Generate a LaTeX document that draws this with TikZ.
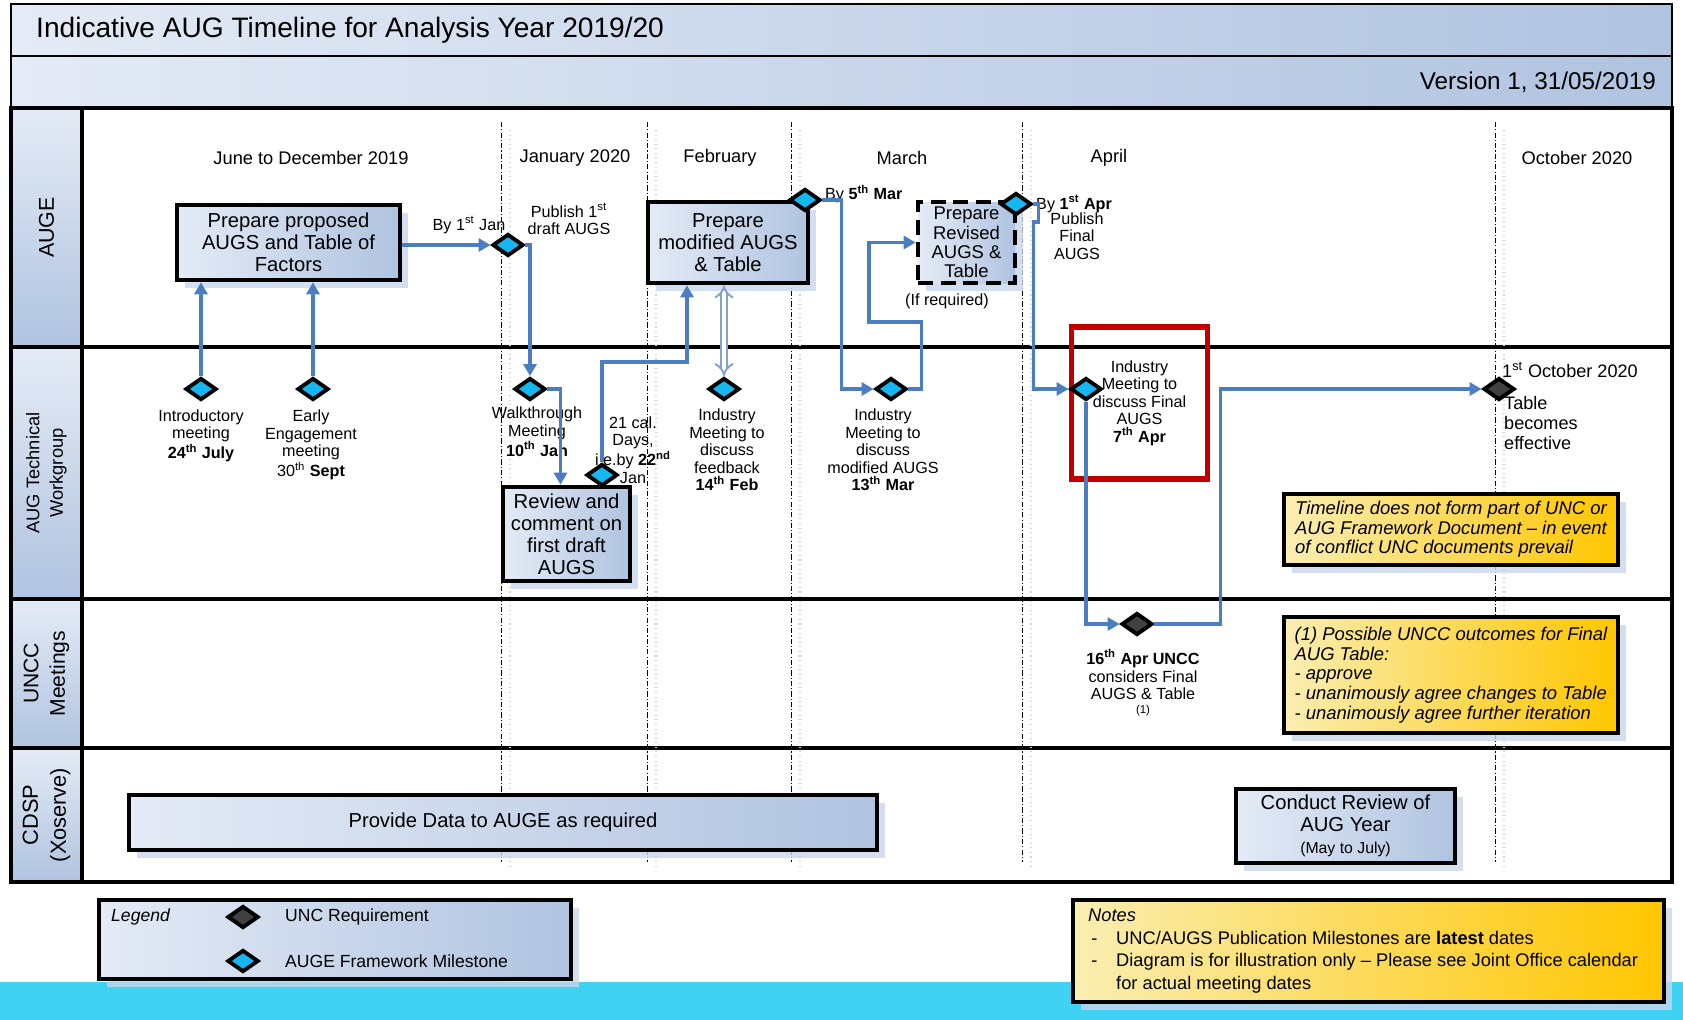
\documentclass[tikz,border=0pt]{standalone}
\usepackage{fontspec}
\setmainfont{Liberation Sans}
\usetikzlibrary{shapes.geometric,arrows.meta,calc,shadows}
\definecolor{flow}{RGB}{74,126,193}
\definecolor{cyanms}{RGB}{22,182,240}
\definecolor{boxlt}{RGB}{228,235,246}
\definecolor{boxdk}{RGB}{176,195,224}
\definecolor{shb}{RGB}{200,214,236}
\definecolor{ylt}{RGB}{250,238,178}
\definecolor{ydk}{RGB}{255,198,0}
\definecolor{redb}{RGB}{192,0,0}
\definecolor{band}{RGB}{64,210,242}
\definecolor{dblc}{RGB}{130,162,212}
\tikzset{bx/.style = {rectangle, draw, line width=2.6pt, left color=boxlt, right color=boxdk, align=center, inner sep=0pt,
                      font=\fontsize{11.5}{12.6}\selectfont, drop shadow={shadow xshift=1.6mm, shadow yshift=-1.6mm, fill=shb, opacity=.8}},
         yb/.style = {bx, left color=ylt, right color=ydk, align=left, font=\fontsize{10.5}{11.2}\selectfont\itshape},
         bar/.style = {rectangle, draw, line width=1.2pt, left color=boxlt, right color=boxdk, inner sep=0pt, minimum width=332.2mm},
         ln/.style = {rectangle, draw, line width=1pt, top color=boxlt, bottom color=boxdk, rotate=90, align=center, inner sep=0pt, minimum height=14.2mm},
         ms/.style = {diamond, draw, line width=2.2pt, fill=cyanms, minimum width=6.2mm, minimum height=4.4mm, inner sep=0pt},
         um/.style = {ms, fill=black!75},
         lb/.style = {align=center, font=\fontsize{9.2}{10}\selectfont},
         mo/.style = {font=\fontsize{10.4}{12}\selectfont},
         fl/.style = {draw=flow, line width=2.1pt},
         dbl/.style = {draw=dblc, line width=1.1pt, double=white, double distance=2.6pt}}
\begin{document}
\begin{tikzpicture}[x=0.2mm, y=-0.2mm, >={Triangle[length=2.4mm,width=2.6mm]}]
    \useasboundingbox (0,0) rectangle (1683,1020);
    \fill[band] (0,982) rectangle (1683,1020);
    \node[bar, minimum height=10.4mm] (ttl) at (841.5,30) {};
    \node[anchor=west, font=\fontsize{16}{18}\selectfont] (ttltx) at (30,30) {Indicative AUG Timeline for Analysis Year 2019/20};
    \node[bar, minimum height=10.2mm] (ver) at (841.5,81.5) {};
    \node[anchor=east, font=\fontsize{13.8}{16}\selectfont] (vertx) at (1662,82) {Version 1, 31/05/2019};
    \node[ln, minimum width=47.8mm, font=\fontsize{12.2}{15}\selectfont] (lauge) at (46.5,227.5) {AUGE};
    \node[ln, minimum width=50.4mm, font=\fontsize{10.4}{13.4}\selectfont] (lwg) at (46.5,473) {AUG Technical\\Workgroup};
    \node[ln, minimum width=29.8mm, font=\fontsize{12}{15}\selectfont] (luncc) at (46.5,673.5) {UNCC\\Meetings};
    \node[ln, minimum width=26.8mm, font=\fontsize{12.4}{16}\selectfont] (lcdsp) at (46.5,815) {CDSP\\(Xoserve)};
    \draw[line width=2pt] (11,108) rectangle (1672,882);
    \draw[line width=2pt] (82,108) -- (82,882);
    \foreach \y in {347,599,748} \draw[line width=2pt] (11,\y) -- (1672,\y);
    \foreach \x in {501,647,791,1022,1495} {
      \draw[shb, line width=.6pt, dotted] (\x+9,130) -- (\x+9,870);
      \draw[line width=.5pt, dash pattern=on 3pt off 1.2pt on .6pt off 1.2pt] (\x,122) -- (\x,862);
    }
    \node[mo] (m1) at (311,158) {June to December 2019};
    \node[mo] (m2) at (575,158) {January 2020};
    \node[mo] (m3) at (720,158) {February};
    \node[mo] (m4) at (902,158) {March};
    \node[mo] (m5) at (1109,158) {April};
    \node[mo] (m6) at (1577,158) {October 2020};
    \node[bx, minimum width=44.6mm, minimum height=15mm] (prop) at (288.5,242.5) {Prepare proposed\\AUGS and Table of\\Factors};
    \node[bx, minimum width=32mm, minimum height=16.2mm] (mod) at (728,242.5) {Prepare\\modified AUGS\\\& Table};
    \node[bx, dash pattern=on 3mm off 1.5mm, minimum width=19.4mm, minimum height=16.2mm, font=\fontsize{10.5}{11}\selectfont] (revd) at (966.5,242.5) {Prepare\\Revised\\AUGS \&\\Table};
    \node[bx, minimum width=25.4mm, minimum height=18.8mm] (rev) at (566.5,534) {Review and\\comment on\\first draft\\AUGS};
    \node[bx, minimum width=149.6mm, minimum height=11mm] (data) at (503,822.5) {Provide Data to AUGE as required};
    \node[bx, minimum width=43.8mm, minimum height=14.8mm] (cond) at (1345.5,826) {Conduct Review of\\AUG Year\\{\fontsize{9}{11}\selectfont (May to July)}};
    \node[yb, minimum width=66.8mm, minimum height=14.2mm] (ytl) at (1451,529.5) {Timeline does not form part of UNC or\\AUG Framework Document -- in event\\of conflict UNC documents prevail};
    \node[yb, minimum width=66.8mm, minimum height=23.2mm] (yout) at (1451,675) {(1) Possible UNCC outcomes for Final\\AUG Table:\\- approve\\- unanimously agree changes to Table\\- unanimously agree further iteration};
    \node[bx, minimum width=94.4mm, minimum height=15.8mm] (leg) at (335,939.5) {};
    \node[yb, minimum width=118.2mm, minimum height=20.4mm] (nts) at (1368.5,951) {};
    \node[draw=redb, line width=3pt, minimum width=27.2mm, minimum height=30.4mm, lb] (rbx) at (1139.5,403) {Industry\\Meeting to\\discuss Final\\AUGS\\\textbf{7\textsuperscript{th} Apr}};
    \node[ms] (jan1) at (508,245) {};
    \node[ms] (intro) at (201,389) {};
    \node[ms] (early) at (313,389) {};
    \node[ms] (walk) at (530,389) {};
    \node[ms] (d22) at (602,475) {};
    \node[ms] (feb14) at (724,389) {};
    \node[ms] (mar5) at (805,200) {};
    \node[ms] (mar13) at (891,389) {};
    \node[ms] (apr1) at (1016,204) {};
    \node[ms] (apr7) at (1086,389) {};
    \node[um] (apr16) at (1137,624) {};
    \node[um] (oct1) at (1499,389) {};
    \node[lb] (byjan) at (469,225) {By 1\textsuperscript{st} Jan};
    \node[lb] (pub1) at (569,219) {Publish 1\textsuperscript{st}\\draft AUGS};
    \node[lb, anchor=west] (bymar) at (819,194) {By \textbf{5\textsuperscript{th} Mar}};
    \node[lb, anchor=west] (byapr) at (1030,204) {By \textbf{1\textsuperscript{st} Apr}};
    \node[lb] (pubf) at (1077,236) {Publish\\Final\\AUGS};
    \node[lb] (ifreq) at (947,301) {(If required)};
    \node[lb] (intl) at (201,436) {Introductory\\meeting\\\textbf{24\textsuperscript{th} July}};
    \node[lb] (earl) at (311,445) {Early\\Engagement\\meeting\\30\textsuperscript{th} \textbf{Sept}};
    \node[lb] (walkl) at (537,432) {Walkthrough\\Meeting\\\textbf{10\textsuperscript{th} Jan}};
    \node[lb] (d22l) at (633,450) {21 cal.\\Days,\\i.e.by \textbf{22\textsuperscript{nd}}\\Jan};
    \node[lb] (febl) at (727,450) {Industry\\Meeting to\\discuss\\feedback\\\textbf{14\textsuperscript{th} Feb}};
    \node[lb] (marl) at (883,450) {Industry\\Meeting to\\discuss\\modified AUGS\\\textbf{13\textsuperscript{th} Mar}};
    \node[lb] (aprl) at (1143,683) {\textbf{16\textsuperscript{th} Apr UNCC}\\considers Final\\AUGS \& Table\\[-2pt]{\fontsize{6.5}{7}\selectfont (1)}};
    \node[anchor=west, font=\fontsize{10.3}{11.4}\selectfont] (octl) at (1496,370) {1\textsuperscript{st} October 2020};
    \node[anchor=west, align=left, font=\fontsize{10.3}{11.4}\selectfont] (tbl) at (1498,423) {Table\\becomes\\effective};
    \node[anchor=west, font=\fontsize{10}{12}\selectfont\itshape] (legt) at (105,917) {Legend};
    \node[um] (lgu) at (243,917) {};
    \node[anchor=west, font=\fontsize{10}{12}\selectfont] (lgut) at (279,917) {UNC Requirement};
    \node[ms] (lgm) at (243,961) {};
    \node[anchor=west, font=\fontsize{10}{12}\selectfont] (lgmt) at (279,961) {AUGE Framework Milestone};
    \node[anchor=west, align=left, font=\fontsize{10.4}{12.9}\selectfont] (ntx) at (1082,951) {\textit{Notes}\\\makebox[5.6mm][l]{\,-}UNC/AUGS Publication Milestones are \textbf{latest} dates\\\makebox[5.6mm][l]{\,-}Diagram is for illustration only -- Please see Joint Office calendar\\\hspace*{5.6mm}for actual meeting dates};
    \draw[fl,->] (prop.east |- jan1) -- (jan1.west);
    \draw[fl,->] (intro.north) -- (intro |- prop.south);
    \draw[fl,->] (early.north) -- (early |- prop.south);
    \draw[fl,->] (jan1.east) -| (walk.north);
    \draw[fl,->] (walk.east) -| ($(rev.north)+(-6,0)$);
    \draw[fl,->] (d22.north) |- ($(mod.south)+(-41,77)$) -- ($(mod.south)+(-41,0)$);
    \draw[dbl,{Implies}-{Implies}] (mod.south -| feb14) -- (feb14.north);
    \draw[fl,->] (mar5.east) -- ++(19,0) |- (mar13.west);
    \draw[fl,->] (mar13.east) -- ++(13,0) -- ++(0,-67) -| ($(revd.west)+(-47,0)$) -- (revd.west);
    \draw[fl,->] (apr1.east) -- ++(5,0) -- ++(0,18) -- ++(-5,0) |- (apr7.west);
    \draw[fl,->] (apr7.south) |- (apr16.west);
    \draw[fl,->] (apr16.east) -- ++(66,0) |- (oct1.west);
\end{tikzpicture}
\end{document}
